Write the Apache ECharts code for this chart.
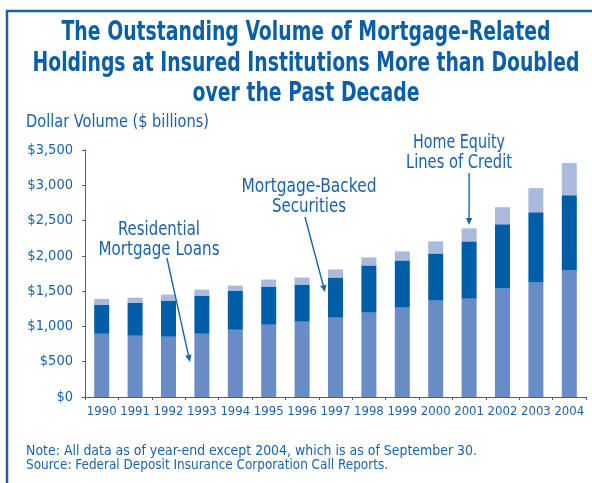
<!DOCTYPE html>
<html><head><meta charset="utf-8">
<script src="https://cdn.jsdelivr.net/npm/echarts@6/dist/echarts.min.js"></script>
<style>html,body{margin:0;padding:0;background:#fff}#c{width:592px;height:483px}</style>
</head><body><div id="c"></div>
<script>
// ---- data ----
const years = ['1990','1991','1992','1993','1994','1995','1996','1997','1998','1999','2000','2001','2002','2003','2004'];
const residentialMortgageLoans = [896, 868, 854, 896, 953, 1024, 1067, 1124, 1195, 1266, 1366, 1394, 1536, 1622, 1793];
const mortgageBackedSecurities = [413, 469, 512, 541, 555, 541, 526, 569, 669, 669, 668, 811, 911, 996, 1067];
const homeEquityLinesOfCredit = [81, 71, 85, 85, 71, 99, 100, 114, 114, 128, 171, 185, 242, 341, 455];
const yMin = 0, yMax = 3500, yStep = 500;
const titleLines = ['The Outstanding Volume of Mortgage-Related', 'Holdings at Insured Institutions More than Doubled', 'over the Past Decade'];
const yAxisTitle = 'Dollar Volume ($ billions)';
const noteLines = ['Note: All data as of year-end except 2004, which is as of September 30.', 'Source: Federal Deposit Insurance Corporation Call Reports.'];
const annotationTexts = [['Residential', 'Mortgage Loans'], ['Mortgage-Backed', 'Securities'], ['Home Equity', 'Lines of Credit']];
const annotationTargets = [['1993', 496, 1970], ['1997', 1488, 2551], ['2001', 2437, 3174]];

// ---- styles ----
const FONT = '"Liberation Sans Narrow","DejaVu Sans Condensed","Arial Narrow",sans-serif';
const TXT = '#1a62ab';
const C_BASE = '#688dc6', C_MBS = '#005ea8', C_HEL = '#a9badc';

const mctx = document.createElement('canvas').getContext('2d');
function fitScale(text, font, w) { mctx.font = font; return w / mctx.measureText(text).width; }
function textEl(text, cx, cy, size, weight, width, align, fill) {
  const font = weight + ' ' + size + 'px ' + FONT;
  const s = width ? fitScale(text, font, width) : 1;
  return { type: 'text', x: cx, y: cy, scaleX: s, z: 100,
    style: { text: text, font: font, fill: fill || TXT, align: align || 'center', verticalAlign: 'middle',
             textAlign: align || 'center', textVerticalAlign: 'middle' } };
}

const chart = echarts.init(document.getElementById('c'), null, { renderer: 'canvas' });
const axisColor = '#2a66ad';
chart.setOption({
  animation: false,
  backgroundColor: '#fff',
  grid: { left: 85, right: 6, top: 150, bottom: 86 },
  xAxis: {
    type: 'category', data: years,
    axisLine: { lineStyle: { color: axisColor, width: 1 } },
    axisTick: { show: true, length: 3, lineStyle: { color: axisColor } },
    axisLabel: { interval: 0, margin: 8, color: TXT, fontFamily: FONT, fontSize: 13 }
  },
  yAxis: {
    type: 'value', min: yMin, max: yMax, interval: yStep,
    axisLine: { show: true, lineStyle: { color: axisColor, width: 1 } },
    axisTick: { show: true, length: 3, lineStyle: { color: axisColor } },
    splitLine: { show: false },
    axisLabel: { margin: 12, color: TXT, fontFamily: FONT, fontSize: 14.5,
      formatter: v => '$' + v.toLocaleString('en-US') }
  },
  series: [
    { name: 'Residential Mortgage Loans', type: 'bar', stack: 'a', data: residentialMortgageLoans, barWidth: 15, itemStyle: { color: C_BASE } },
    { name: 'Mortgage-Backed Securities', type: 'bar', stack: 'a', data: mortgageBackedSecurities, barWidth: 15, itemStyle: { color: C_MBS } },
    { name: 'Home Equity Lines of Credit', type: 'bar', stack: 'a', data: homeEquityLinesOfCredit, barWidth: 15, itemStyle: { color: C_HEL } }
  ]
});

// annotation arrows anchored to data coordinates
const arrowDx = [[-35, -12], [-30.5, -10.5], [0, 0]]; // [start dx, end dx] pixel offsets from category centre
const elements = [];
elements.push({ type: 'rect', shape: { x: 7, y: 11, width: 620, height: 520 }, z: 1,
  style: { fill: null, stroke: '#1862aa', lineWidth: 2.5 } });
// title
const titleW = [489, 547, 227];
const titleY = [33, 64, 94];
titleLines.forEach((t, i) => elements.push(textEl(t, 306, titleY[i], 27, 'bold', titleW[i], 'center', '#0b5ea8')));
elements.push(textEl(yAxisTitle, 26, 123, 17, 'normal', 183, 'left'));
elements.push(textEl(noteLines[0], 26, 451, 14, 'normal', 451, 'left'));
elements.push(textEl(noteLines[1], 26, 465, 14, 'normal', 362, 'left'));
// annotation labels
const annPos = [[[159, 230, 82], [159, 250, 121]], [[309, 187, 135], [309, 207, 74]], [[459, 143, 92], [459, 163, 106]]];
annotationTexts.forEach((lines, i) => lines.forEach((t, j) => {
  const p = annPos[i][j];
  elements.push(textEl(t, p[0], p[1], 19, 'normal', p[2]));
}));
annotationTargets.forEach((a, i) => {
  const end = chart.convertToPixel({ gridIndex: 0 }, [a[0], a[1]]);
  const start = chart.convertToPixel({ gridIndex: 0 }, [a[0], a[2]]);
  const x1 = start[0] + arrowDx[i][0], y1 = start[1];
  const x2 = end[0] + arrowDx[i][1], y2 = end[1];
  const dx = x2 - x1, dy = y2 - y1, L = Math.hypot(dx, dy), ux = dx / L, uy = dy / L;
  const hl = 7, hw = 3.2;
  const bx = x2 - ux * hl, by = y2 - uy * hl;
  elements.push({ type: 'line', z: 90, shape: { x1: x1, y1: y1, x2: bx, y2: by }, style: { stroke: '#1e64ab', lineWidth: 1.4 } });
  elements.push({ type: 'polygon', z: 90, shape: { points: [[x2, y2], [bx - uy * hw, by + ux * hw], [bx + uy * hw, by - ux * hw]] }, style: { fill: '#1e64ab' } });
});
chart.setOption({ graphic: { elements: elements } });
</script>
</body></html>
